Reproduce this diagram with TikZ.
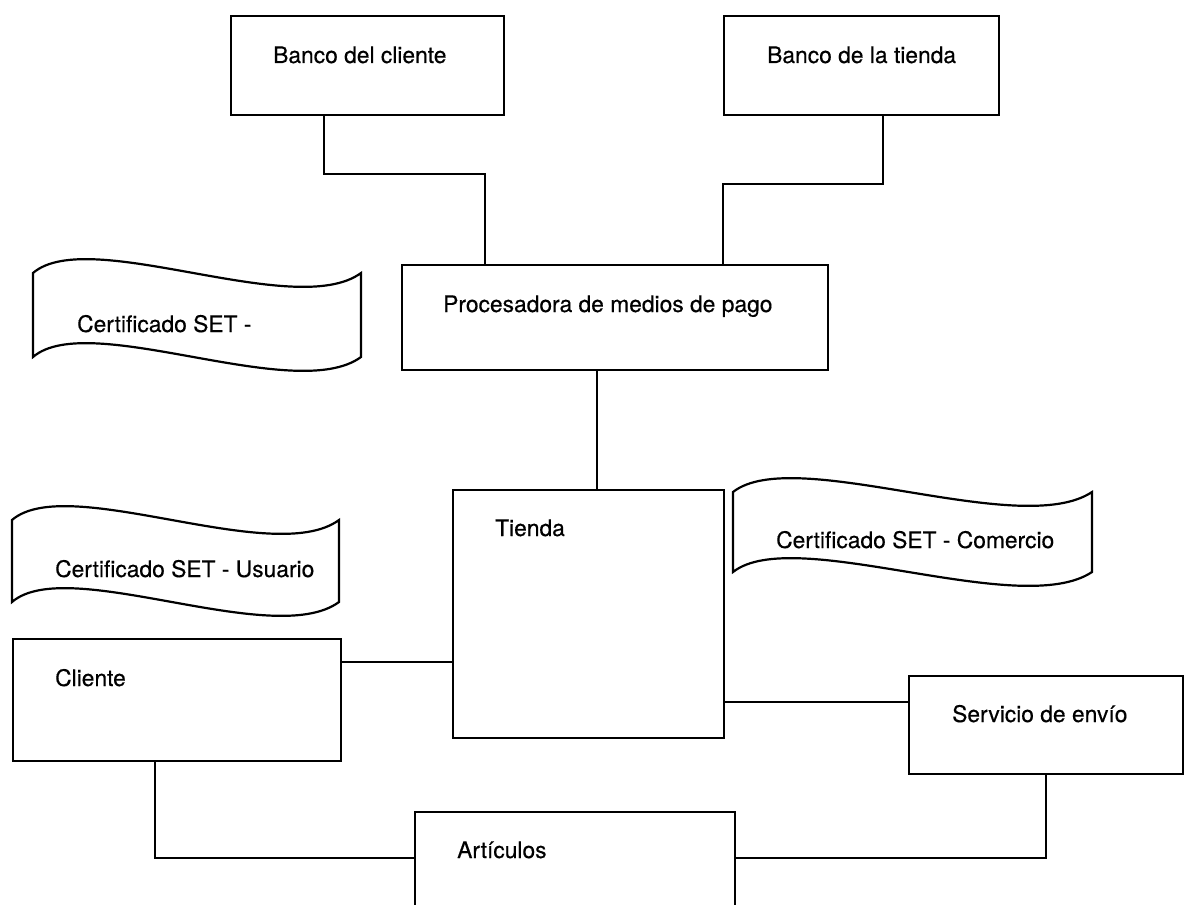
\documentclass[tikz,border=0pt]{standalone}
\usepackage{fontspec}
\setmainfont[FakeBold=0.4]{TeX Gyre Heros}
\begin{document}
\begin{tikzpicture}[x=1pt,y=-1pt,
  box/.style={draw, line width=2.2pt, inner sep=0pt, anchor=north west},
  wire/.style={line width=1.8pt},
  ribbonline/.style={draw, line width=2.2pt, line join=miter},
  txt/.style={anchor=base west, inner sep=0pt, font=\fontsize{22.8}{27}\selectfont}]
\useasboundingbox (0,0) rectangle (1190,904);
\clip (0,0) rectangle (1190,904);

% wavy certificate banner: name, left x, top y, width, height
\newcommand\drawribbon[5]{%
  \coordinate (#1) at (#2,#3);
  \draw[ribbonline] (#2,#3)
    .. controls ({#2+0.17*#4},{#3-48}) and ({#2+0.8*#4},{#3+48}) .. ({#2+#4},{#3})
    -- ({#2+#4},{#3+#5})
    .. controls ({#2+0.8*#4},{#3+#5+48}) and ({#2+0.17*#4},{#3+#5-48}) .. (#2,{#3+#5})
    -- cycle;}

% boxes
\node[box, minimum width=273pt, minimum height=99pt]  (bcli)    at (230,15)  {};
\node[box, minimum width=275pt, minimum height=99pt]  (btie)    at (723,15)  {};
\node[box, minimum width=426pt, minimum height=105pt] (proc)    at (401,264) {};
\node[box, minimum width=271pt, minimum height=248pt] (tienda)  at (452,489) {};
\node[box, minimum width=328pt, minimum height=122pt] (cliente) at (12,638)  {};
\node[box, minimum width=274pt, minimum height=98pt]  (envio)   at (908,675) {};
\node[box, minimum width=320pt, minimum height=130pt] (art)     at (414,811) {};

% box labels
\node[txt] (tbcli)    at ([shift={(43pt,-48pt)}]bcli.north west)    {Banco del cliente};
\node[txt] (tbtie)    at ([shift={(44pt,-48pt)}]btie.north west)    {Banco de la tienda};
\node[txt] (tproc)    at ([shift={(42pt,-48pt)}]proc.north west)    {Procesadora de medios de pago};
\node[txt] (ttienda)  at ([shift={(43pt,-47pt)}]tienda.north west)  {Tienda};
\node[txt] (tcliente) at ([shift={(43pt,-48pt)}]cliente.north west) {Cliente};
\node[txt] (tenvio)   at ([shift={(44pt,-47pt)}]envio.north west)   {Servicio de envío};
\node[txt] (tart)     at ([shift={(43pt,-47pt)}]art.north west)     {Artículos};

% certificate banners
\drawribbon{certA}{33}{273}{328}{84}
\drawribbon{certU}{12}{520}{327}{82}
\drawribbon{certC}{733}{492}{359}{80}
\node[txt] (tcertA) at ([shift={(44pt,-59pt)}]certA) {Certificado SET -};
\node[txt] (tcertU) at ([shift={(43pt,-57pt)}]certU) {Certificado SET - Usuario};
\node[txt] (tcertC) at ([shift={(43pt,-56pt)}]certC) {Certificado SET - Comercio};

% connectors
\draw[wire] ([xshift=94pt]bcli.south west) -- ++(0,58) -| ([xshift=84pt]proc.north west);
\draw[wire] ([xshift=160pt]btie.south west) -- ++(0,68) -| ([xshift=322pt]proc.north west);
\draw[wire] ([xshift=196pt]proc.south west) -- ([xshift=145pt]tienda.north west);

\coordinate (c1) at ([yshift=-24pt]cliente.north east);
\draw[wire] (c1) -- (c1 -| tienda.west);
\coordinate (c2) at ([yshift=-27pt]envio.north west);
\draw[wire] (c2 -| tienda.east) -- (c2);
\coordinate (c3) at ([yshift=-47pt]art.north west);
\draw[wire] ([xshift=143pt]cliente.south west) |- (c3);
\coordinate (c4) at ([yshift=-47pt]art.north east);
\draw[wire] ([xshift=138pt]envio.south west) |- (c4);
\end{tikzpicture}
\end{document}
